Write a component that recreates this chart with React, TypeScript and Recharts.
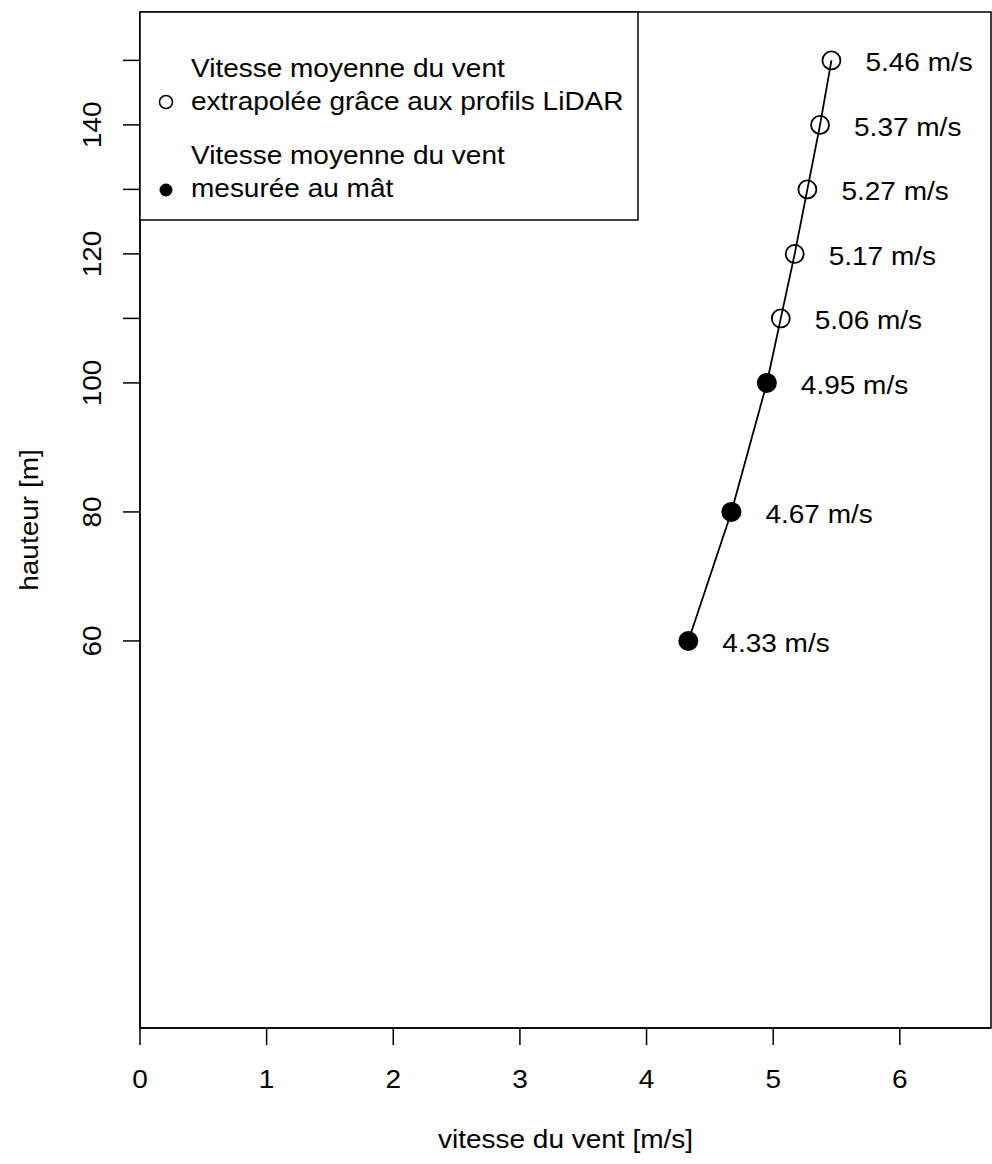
import React from 'react';
import {
  ScatterChart,
  Scatter,
  XAxis,
  YAxis,
  ReferenceArea,
  Legend,
  Label,
} from 'recharts';

// ---- data ----
const mastHeights = [60, 80, 100];
const mastSpeeds = [4.33, 4.67, 4.95];
const lidarHeights = [110, 120, 130, 140, 150];
const lidarSpeeds = [5.06, 5.17, 5.27, 5.37, 5.46];
const xTicks = [0, 1, 2, 3, 4, 5, 6];
const yTicks = [60, 80, 100, 110, 120, 130, 140, 150];
const yTickLabels = [60, 80, 100, 120, 140];
const xDomain = [0, 6.72];
const yDomain = [0, 157.5];
const xTitle = 'vitesse du vent [m/s]';
const yTitle = 'hauteur [m]';
const legendLidar = ['Vitesse moyenne du vent', 'extrapolée grâce aux profils LiDAR'];
const legendMast = ['Vitesse moyenne du vent', 'mesurée au mât'];

const mastData = mastHeights.map((h, i) => ({ height: h, speed: mastSpeeds[i] }));
const lidarData = lidarHeights.map((h, i) => ({ height: h, speed: lidarSpeeds[i] }));
const allData = [...mastData, ...lidarData];

// ---- style ----
const FONT = '"Liberation Sans", Arial, Helvetica, sans-serif';
const FS = 25;
const SX = 1.12;
const INK = '#000';
const LW = 1.5;

function T({ x, y, children, anchor = 'start', rotate = 0 }: any) {
  return (
    <text
      transform={`translate(${x},${y}) rotate(${rotate}) scale(${SX},1)`}
      textAnchor={anchor}
      fontSize={FS}
      fontFamily={FONT}
      fill={INK}
    >
      {children}
    </text>
  );
}

function XTick(props: any) {
  const { x, y, payload } = props;
  return <T x={x} y={y + 43.3} anchor="middle">{String(payload.value)}</T>;
}

function YTick(props: any) {
  const { x, y, payload } = props;
  if (!yTickLabels.includes(payload.value)) return <g />;
  return <T x={x - 22} y={y} anchor="middle" rotate={-90}>{String(payload.value)}</T>;
}

function OpenMarker(props: any) {
  const { cx, cy, payload } = props;
  return (
    <g>
      <circle cx={cx} cy={cy} r={9} fill="none" stroke={INK} strokeWidth={1.8} />
      <T x={cx + 34} y={cy + 11}>{payload.speed.toFixed(2) + ' m/s'}</T>
    </g>
  );
}

function FilledMarker(props: any) {
  const { cx, cy, payload } = props;
  return (
    <g>
      <circle cx={cx} cy={cy} r={10} fill={INK} />
      <T x={cx + 34} y={cy + 11}>{payload.speed.toFixed(2) + ' m/s'}</T>
    </g>
  );
}

function LegendBox() {
  return (
    <svg width={500} height={212} style={{ display: 'block', overflow: 'visible' }}>
      <rect x={1} y={1} width={498} height={208} fill="#fff" stroke={INK} strokeWidth={LW} />
      <T x={52} y={65.5}>{legendLidar[0]}</T>
      <T x={52} y={99}>{legendLidar[1]}</T>
      <circle cx={27} cy={91} r={6.5} fill="none" stroke={INK} strokeWidth={1.5} />
      <T x={52} y={152.5}>{legendMast[0]}</T>
      <T x={52} y={185.5}>{legendMast[1]}</T>
      <circle cx={27} cy={179} r={6.5} fill={INK} />
    </svg>
  );
}

export default function App() {
  return (
    <div style={{ position: 'absolute', left: 0, top: 0, width: 992, height: 1160, background: '#fff' }}>
      <ScatterChart
        width={992}
        height={1160}
        margin={{ top: 12, right: 1, left: 0, bottom: 0 }}
      >
        <XAxis
          type="number"
          dataKey="speed"
          domain={xDomain}
          ticks={xTicks}
          allowDataOverflow
          height={132}
          tickSize={17}
          tickMargin={0}
          tick={(p: any) => <XTick {...p} />}
          axisLine={{ stroke: INK, strokeWidth: LW }}
          tickLine={{ stroke: INK, strokeWidth: LW }}
        >
          <Label
            content={(p: any) => {
              const vb = p.viewBox;
              return <T x={vb.x + vb.width / 2} y={vb.y + 120} anchor="middle">{xTitle}</T>;
            }}
          />
        </XAxis>
        <YAxis
          type="number"
          dataKey="height"
          domain={yDomain}
          ticks={yTicks}
          allowDataOverflow
          width={140}
          tickSize={17}
          tickMargin={0}
          tick={(p: any) => <YTick {...p} />}
          axisLine={{ stroke: INK, strokeWidth: LW }}
          tickLine={{ stroke: INK, strokeWidth: LW }}
        >
          <Label
            content={(p: any) => {
              const vb = p.viewBox;
              return <T x={vb.x + 38} y={vb.y + vb.height / 2} anchor="middle" rotate={-90}>{yTitle}</T>;
            }}
          />
        </YAxis>
        <ReferenceArea
          x1={xDomain[0]}
          x2={xDomain[1]}
          y1={yDomain[0]}
          y2={yDomain[1]}
          fill="none"
          stroke={INK}
          strokeWidth={LW}
          ifOverflow="visible"
        />
        <Scatter
          name="profil"
          data={allData}
          line={{ stroke: INK, strokeWidth: 1.8 }}
          lineType="joint"
          shape={() => <g />}
          isAnimationActive={false}
          legendType="none"
        />
        <Scatter
          name="lidar"
          data={lidarData}
          shape={(p: any) => <OpenMarker {...p} />}
          isAnimationActive={false}
        />
        <Scatter
          name="mast"
          data={mastData}
          shape={(p: any) => <FilledMarker {...p} />}
          isAnimationActive={false}
        />
        <Legend
          layout="vertical"
          align="center"
          verticalAlign="middle"
          content={() => <LegendBox />}
          wrapperStyle={{ left: 139, top: 11, width: 500, height: 212 }}
        />
      </ScatterChart>
    </div>
  );
}
